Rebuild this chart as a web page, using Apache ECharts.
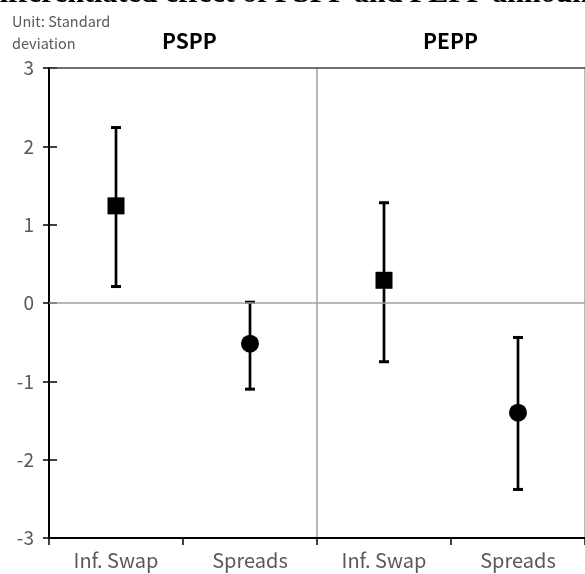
<!DOCTYPE html>
<html>
<head>
<meta charset="utf-8">
<script src="https://cdn.jsdelivr.net/npm/echarts@6/dist/echarts.min.js"></script>
<style>html,body{margin:0;padding:0;background:#fff;}#c{width:585px;height:574px;}</style>
</head>
<body>
<div id="c"></div>
<script>
const categories = ['Inf. Swap', 'Spreads', 'Inf. Swap', 'Spreads'];
const groupLabels = ['PSPP', 'PEPP'];
const yTicks = [-3, -2, -1, 0, 1, 2, 3];
const centers = [1.24, -0.52, 0.29, -1.40];
const upper = [2.24, 0.01, 1.28, -0.44];
const lower = [0.21, -1.10, -0.75, -2.38];
const markerShape = ['rect', 'circle', 'rect', 'circle'];

const FONT = "'Noto Sans CJK KR', 'Noto Sans', sans-serif";
const chart = echarts.init(document.getElementById('c'));

const errData = categories.map((c, i) => [i, lower[i], upper[i]]);
const sqData = [], ciData = [];
categories.forEach((c, i) => {
  (markerShape[i] === 'rect' ? sqData : ciData).push([i, centers[i]]);
});

chart.setOption({
  animation: false,
  backgroundColor: '#fff',
  grid: { left: 49, top: 68, width: 542, bottom: 36, containLabel: false },
  graphic: [
    { type: 'text', left: -22, top: -21, style: { text: 'Differentiated effect of PSPP and PEPP announcements', font: "bold 30px 'Liberation Serif', serif", fill: '#000' } },
    { type: 'text', left: 12, top: 10, style: { text: 'Unit: Standard\ndeviation', font: "14.5px " + FONT, fill: '#595959', lineHeight: 22 } },
    { type: 'text', left: 162, top: 31, style: { text: groupLabels[0], font: "bold 21px " + FONT, fill: '#000' } },
    { type: 'text', left: 423, top: 31, style: { text: groupLabels[1], font: "bold 21px " + FONT, fill: '#000' } }
  ],
  xAxis: [{
    type: 'category',
    data: categories,
    boundaryGap: true,
    axisLine: { onZero: false, lineStyle: { color: '#000', width: 2 } },
    axisTick: { show: true, length: 7, interval: 0, lineStyle: { color: '#000', width: 1.5 } },
    axisLabel: { interval: 0, color: '#595959', fontSize: 20, fontFamily: FONT, margin: 12 },
    splitLine: { show: false }
  }, {
    type: 'value', min: 0, max: 4, interval: 2, position: 'bottom',
    axisLine: { show: false }, axisTick: { show: false }, axisLabel: { show: false },
    splitLine: { show: true, lineStyle: { color: '#a0a0a0', width: 1.5 } }
  }],
  yAxis: [{
    type: 'value', min: yTicks[0], max: yTicks[yTicks.length - 1], interval: 1,
    axisLine: { show: true, lineStyle: { color: '#000', width: 2 } },
    axisTick: { show: true, length: 6, lineStyle: { color: '#000', width: 1.5 } },
    axisLabel: { color: '#595959', fontSize: 19, fontFamily: FONT, margin: 15 },
    splitLine: { show: false }
  }, {
    type: 'value', min: yTicks[0], max: yTicks[yTicks.length - 1], interval: 1, position: 'left',
    axisLine: { show: false },
    axisTick: { show: true, inside: true, length: 8, lineStyle: { color: '#000', width: 1.5 } },
    axisLabel: { show: false },
    splitLine: { show: false }
  }],
  series: [
    {
      type: 'custom',
      data: errData,
      z: 3,
      renderItem: function (params, api) {
        const x = api.coord([api.value(0), 0])[0];
        const lo = api.coord([api.value(0), api.value(1)])[1];
        const hi = api.coord([api.value(0), api.value(2)])[1];
        return {
          type: 'group',
          children: [
            { type: 'line', shape: { x1: x, y1: lo, x2: x, y2: hi }, style: { stroke: '#000', lineWidth: 2.7 } },
            { type: 'line', shape: { x1: x - 5, y1: hi, x2: x + 5, y2: hi }, style: { stroke: '#000', lineWidth: 3 } },
            { type: 'line', shape: { x1: x - 5, y1: lo, x2: x + 5, y2: lo }, style: { stroke: '#000', lineWidth: 3 } }
          ]
        };
      },
      markLine: {
        silent: true, symbol: 'none', label: { show: false },
        data: [
          { yAxis: 0, lineStyle: { color: '#a0a0a0', width: 1.5, type: 'solid' } },
          { yAxis: 3, lineStyle: { color: '#404040', width: 1.5, type: 'solid' } }
        ]
      }
    },
    { type: 'scatter', data: sqData, symbol: 'rect', symbolSize: 17, itemStyle: { color: '#000', opacity: 1 }, z: 4 },
    { type: 'scatter', data: ciData, symbol: 'circle', symbolSize: 18, itemStyle: { color: '#000', opacity: 1 }, z: 4 }
  ]
});
</script>
</body>
</html>
